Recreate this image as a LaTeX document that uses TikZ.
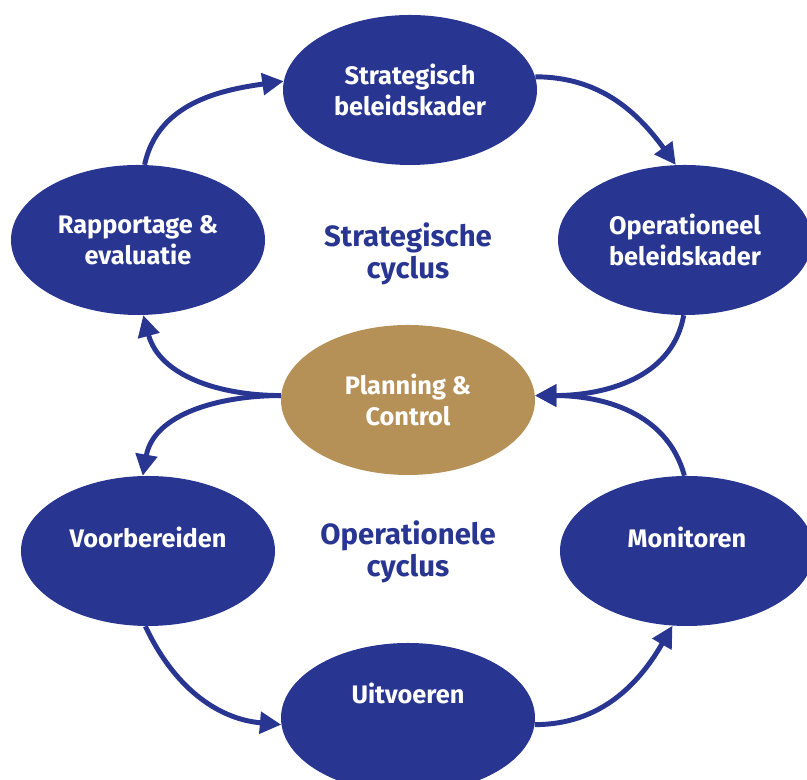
\documentclass[tikz,border=0pt]{standalone}
\usepackage{fontspec}
\setmainfont{Fira Sans}
\usetikzlibrary{arrows.meta,shapes.geometric}
\definecolor{nblue}{RGB}{40,54,146}
\definecolor{ngold}{RGB}{181,145,87}
\begin{document}
\begin{tikzpicture}[x=0.75pt,y=0.75pt,
  bubble/.style={ellipse, fill=nblue, text=white, inner sep=0pt,
    minimum width=190.5pt, minimum height=112.5pt,
    font=\bfseries\fontsize{19}{23.25}\selectfont, align=center},
  bubbletext/.style={text=white, inner sep=0pt,
    font=\bfseries\fontsize{19}{23.25}\selectfont, align=center},
  cycletext/.style={text=nblue, inner sep=0pt,
    font=\bfseries\fontsize{22}{24.5}\selectfont, align=center},
  conn/.style={draw=nblue, line width=3.7pt, -{Triangle[length=16pt,width=16pt]}}
]
\useasboundingbox (0,0) rectangle (807,780);

\node[bubble] (S) at (410,690) {Strategisch\\beleidskader};
\node[bubble] (O) at (685,540) {Operationeel\\beleidskader};
\node[bubble] (R) at (138,540) {Rapportage \&\\evaluatie};
\node[bubble, fill=ngold] (P) at (408,380) {Planning \&\\Control};
\node[bubble] (V) at (148,229) {};
\node[bubble] (M) at (687,229) {};
\node[bubble] (U) at (408,62) {};

\node[bubbletext] (Vt) at (148,243) {Voorbereiden};
\node[bubbletext] (Mt) at (687,243) {Monitoren};
\node[bubbletext] (Ut) at (408,87) {Uitvoeren};

\node[cycletext] (sc) at (408,526) {Strategische\\cyclus};
\node[cycletext] (oc) at (408,228) {Operationele\\cyclus};

% strategic cycle
\draw[conn] (R.85) to[out=78,in=188] (S.176);
\draw[conn] (S.6) to[out=0,in=126] (O.97);
\draw[conn] (O.-91) to[out=-100,in=0] (P.2);
\draw[conn] (P.178) to[out=180,in=-75] (R.-86);

% operational cycle
\draw[conn] (P.178) to[out=180,in=80] (V.94);
\draw[conn] (V.-92) to[out=-65,in=175] (U.183);
\draw[conn] (U.-3) to[out=0,in=-120] (M.-101);
\draw[conn] (M.92) to[out=105,in=0] (P.2);
\end{tikzpicture}
\end{document}
